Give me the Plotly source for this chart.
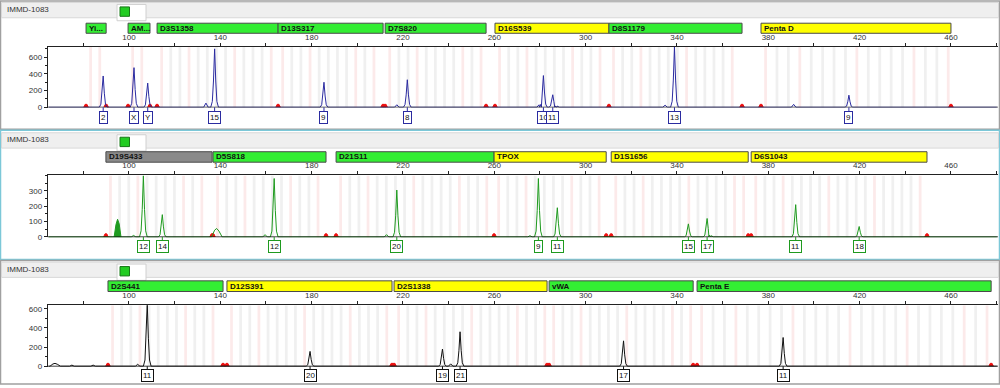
import plotly.graph_objects as go
import numpy as np

W, H = 1000, 388
X_RANGE = [64.4, 480.6]
X_DOMAIN = [0.0477, 0.998]

sample_name = "IMMD-1083"
size_ticks = list(range(80, 481, 20))
size_labels = [100, 140, 180, 220, 260, 300, 340, 380, 420, 460]

# ---------------- Panel 1 (blue dye) ----------------
loci1_names = ["Yi...", "AM...", "D3S1358", "D13S317", "D7S820", "D16S539", "D8S1179", "Penta D"]
loci1_start = [81.2, 99.6, 112.3, 165.3, 212.2, 260.3, 310.2, 376.8]
loci1_end = [90.0, 109.2, 165.3, 211.3, 256.4, 310.2, 368.5, 460.0]
loci1_color = ["green", "green", "green", "green", "green", "yellow", "green", "yellow"]
loci1_repeat = [4, 4, 4, 4, 4, 4, 4, 5]
peaks1_size = [88.7, 102.2, 108.2, 137.5, 185.4, 221.9, 281.5, 285.6, 338.9, 415.3]
peaks1_height = [375, 475, 290, 700, 300, 330, 380, 150, 725, 145]
peaks1_allele = ["2", "X", "Y", "15", "9", "8", "10", "11", "13", "9"]
minor1_size = [133.7, 217.3, 279.6, 287.5, 334.8, 391.1]
minor1_height = [50, 30, 30, 15, 25, 35]

# ---------------- Panel 2 (green dye) ----------------
loci2_names = ["D19S433", "D5S818", "D21S11", "TPOX", "D1S1656", "D6S1043"]
loci2_start = [89.9, 136.8, 190.7, 259.9, 311.2, 372.5]
loci2_end = [136.4, 186.3, 259.9, 309.0, 371.2, 449.5]
loci2_color = ["gray", "green", "green", "yellow", "yellow", "yellow"]
loci2_repeat = [4, 4, 4, 4, 4, 4]
peaks2_size = [106.3, 114.6, 163.6, 217.3, 279.3, 287.6, 345.0, 353.2, 392.0, 419.8]
peaks2_height = [398, 145, 380, 305, 380, 190, 85, 120, 210, 68]
peaks2_allele = ["12", "14", "12", "20", "9", "11", "15", "17", "11", "18"]
minor2_size = [102.0, 159.6, 212.8, 275.6, 355.0]
minor2_height = [10, 15, 15, 8, 8]
broad2_size = [138.4]
broad2_height = [55]
blob2_size = [95.0]
blob2_height = [115]

# ---------------- Panel 3 (black dye) ----------------
loci3_names = ["D2S441", "D12S391", "D2S1338", "vWA", "Penta E"]
loci3_start = [90.8, 142.9, 216.1, 284.0, 348.8]
loci3_end = [141.2, 215.2, 283.1, 347.1, 477.6]
loci3_color = ["green", "yellow", "yellow", "green", "green"]
loci3_repeat = [4, 4, 4, 4, 5]
peaks3_size = [108.0, 179.3, 237.3, 245.0, 316.6, 386.5]
peaks3_height = [650, 155, 180, 360, 265, 300]
peaks3_allele = ["11", "20", "19", "21", "17", "11"]
minor3_size = [103.8, 240.9, 75.0, 84.3]
minor3_height = [20, 25, 12, 12]
broad3_size = [67.6]
broad3_height = [30]

BAR_COLORS = {"green": "#33ee33", "yellow": "#ffff00", "gray": "#8a8a8a"}

panels = [
    dict(names=loci1_names, start=loci1_start, end=loci1_end, color=loci1_color, rep=loci1_repeat,
         ps=peaks1_size, ph=peaks1_height, pa=peaks1_allele, ms=minor1_size, mh=minor1_height,
         bs=[], bh=[], blob_s=[], blob_h=[],
         dye="#2b2ba0", yr=[-4, 726], ytv=[0, 200, 400, 600], ydt=100,
         top=46.3, bot=108.0, bar=(22.5, 32.7), head=1, red_h=35, lab_off=9.5),
    dict(names=loci2_names, start=loci2_start, end=loci2_end, color=loci2_color, rep=loci2_repeat,
         ps=peaks2_size, ph=peaks2_height, pa=peaks2_allele, ms=minor2_size, mh=minor2_height,
         bs=broad2_size, bh=broad2_height, blob_s=blob2_size, blob_h=blob2_height,
         dye="#1f9a1f", yr=[-3, 400], ytv=[0, 100, 200, 300], ydt=50,
         top=176.7, bot=239.5, bar=(152.7, 163.3), head=133, red_h=20, lab_off=8.7),
    dict(names=loci3_names, start=loci3_start, end=loci3_end, color=loci3_color, rep=loci3_repeat,
         ps=peaks3_size, ph=peaks3_height, pa=peaks3_allele, ms=minor3_size, mh=minor3_height,
         bs=broad3_size, bh=broad3_height, blob_s=[], blob_h=[],
         dye="#111111", yr=[-4, 636], ytv=[0, 200, 400, 600], ydt=100,
         top=308.3, bot=370.4, bar=(283.5, 294.3), head=264, red_h=30, lab_off=8.5),
]


def py(p):
    return 1 - p / H


def px(p):
    return p / W


fig = go.Figure()
shapes = []
annotations = []

frames = [(0, 130, "#a0a0a0"), (131, 262, "#7cc8d8"), (263, 388, "#a0a0a0")]
for (t, b, c) in frames:
    shapes.append(dict(type="rect", xref="paper", yref="paper", x0=px(0.5), x1=px(999.5),
                       y0=py(b), y1=py(t), line=dict(color=c, width=1.5), fillcolor="white", layer="below"))

for i, P in enumerate(panels):
    ax = "" if i == 0 else str(i + 1)
    xref, yref = "x" + ax, "y" + ax
    ht = P["head"]
    shapes.append(dict(type="rect", xref="paper", yref="paper", x0=px(1.5), x1=px(998.5),
                       y0=py(ht + 16), y1=py(ht + 0.5), fillcolor="#efefef",
                       line=dict(color="#d8d8d8", width=1), layer="below"))
    shapes.append(dict(type="rect", xref="paper", yref="paper", x0=px(117), x1=px(146),
                       y0=py(ht + 19), y1=py(ht + 2.5), fillcolor="white",
                       line=dict(color="#d0d0d0", width=1), layer="below"))
    shapes.append(dict(type="rect", xref="paper", yref="paper", x0=px(120), x1=px(129.5),
                       y0=py(ht + 14.5), y1=py(ht + 5), fillcolor="#22cc22",
                       line=dict(color="#187818", width=1)))
    annotations.append(dict(text=sample_name, xref="paper", yref="paper", x=px(5), y=py(ht + 7.5),
                            xanchor="left", yanchor="middle", showarrow=False,
                            font=dict(size=8, color="#333333", family="Liberation Sans")))

    gray_bins, pink_bins = [], []
    for s, e, r in zip(P["start"], P["end"], P["rep"]):
        pos = np.arange(s + 2, e - 1, r)
        n = len(pos)
        for k, b in enumerate(pos):
            if k == 0 or k == n - 1 or (k % 5 == 3):
                pink_bins.append(b)
            else:
                gray_bins.append(b)
    ytop = P["yr"][1]
    ybot = P["yr"][0]
    for bins, col in ((gray_bins, "rgba(200,200,200,0.28)"), (pink_bins, "rgba(240,160,160,0.22)")):
        fig.add_trace(go.Bar(x=bins, y=[ytop - ybot] * len(bins), base=[ybot] * len(bins), width=1.2,
                             marker=dict(color=col, line=dict(width=0)), xaxis=xref, yaxis=yref,
                             hoverinfo="skip", showlegend=False))

    for nm, s, e, c in zip(P["names"], P["start"], P["end"], P["color"]):
        shapes.append(dict(type="rect", xref=xref, yref="paper", x0=s, x1=e,
                           y0=py(P["bar"][1]), y1=py(P["bar"][0]), fillcolor=BAR_COLORS[c],
                           line=dict(color="#4a4a4a", width=1)))
        annotations.append(dict(text="<b>" + nm + "</b>", xref=xref, yref="paper", x=s, xshift=1,
                                y=py((P["bar"][0] + P["bar"][1]) / 2), xanchor="left", yanchor="middle",
                                showarrow=False, font=dict(size=8, color="#111111", family="Liberation Sans")))

    bounds = sorted(set(list(P["start"]) + list(P["end"])))
    for b in bounds:
        fig.add_trace(go.Scatter(x=[b - 1.0, b - 0.4, b + 0.4, b + 1.0], y=[0, P["red_h"], P["red_h"], 0],
                                 fill="toself", fillcolor="#ee1111", line=dict(color="#ee1111", width=1),
                                 mode="lines", xaxis=xref, yaxis=yref, hoverinfo="skip", showlegend=False))

    pts = []
    for s, h in zip(P["ps"], P["ph"]):
        pts += [(s - 1.7, 0), (s - 1.0, h * 0.1), (s - 0.5, h * 0.45), (s, h),
                (s + 0.5, h * 0.45), (s + 1.0, h * 0.1), (s + 1.7, 0)]
    for s, h in zip(P["ms"], P["mh"]):
        pts += [(s - 1.0, 0), (s, h), (s + 1.0, 0)]
    for s, h in zip(P["bs"], P["bh"]):
        pts += [(s - 2.2, 0), (s - 0.9, h * 0.8), (s, h), (s + 1.0, h * 0.7), (s + 2.4, 0)]
    pts.sort()
    xs = [X_RANGE[0] + 0.5] + [p[0] for p in pts] + [X_RANGE[1] - 0.5]
    ys = [0] + [p[1] for p in pts] + [0]
    fig.add_trace(go.Scatter(x=xs, y=ys, mode="lines", line=dict(color=P["dye"], width=1),
                             xaxis=xref, yaxis=yref, hoverinfo="skip", showlegend=False))
    for s, h in zip(P["blob_s"], P["blob_h"]):
        fig.add_trace(go.Scatter(x=[s - 1.5, s - 0.7, s, s + 0.7, s + 1.5], y=[0, h * 0.7, h, h * 0.75, 0],
                                 fill="toself", fillcolor=P["dye"], mode="lines",
                                 line=dict(color=P["dye"], width=1), xaxis=xref, yaxis=yref,
                                 hoverinfo="skip", showlegend=False))

    shapes.append(dict(type="line", xref=xref + " domain", yref=yref, x0=0, x1=1, y0=0, y1=0,
                       line=dict(color="#111111", width=1)))

    for s, a in zip(P["ps"], P["pa"]):
        annotations.append(dict(text=a, xref=xref, yref=yref, x=s, y=0, showarrow=True, arrowhead=0,
                                arrowwidth=1, arrowcolor=P["dye"], ax=0, ay=P["lab_off"] + 1,
                                bordercolor=P["dye"], borderwidth=1, borderpad=1, bgcolor="white",
                                font=dict(size=8, color="#111111", family="Liberation Sans")))

    xlab = [str(v) if v in size_labels else "" for v in size_ticks]
    fig.layout["xaxis" + ax] = dict(domain=X_DOMAIN, range=X_RANGE, anchor=yref, side="top",
                                    showline=True, linecolor="#222222", linewidth=1, ticks="outside",
                                    ticklen=3, tickcolor="#222222", tickvals=size_ticks, ticktext=xlab,
                                    tickfont=dict(size=8, color="#333333", family="Liberation Sans"),
                                    showgrid=False, zeroline=False, fixedrange=True)
    fig.layout["yaxis" + ax] = dict(domain=[py(P["bot"]), py(P["top"])], range=P["yr"], anchor=xref,
                                    showline=True, linecolor="#222222", linewidth=1, ticks="outside",
                                    ticklen=3, tickcolor="#222222", tickvals=P["ytv"],
                                    tickfont=dict(size=8, color="#333333", family="Liberation Sans"),
                                    minor=dict(dtick=P["ydt"], ticks="outside", ticklen=2, tickcolor="#222222"),
                                    showgrid=False, zeroline=False, fixedrange=True)

fig.update_layout(width=W, height=H, margin=dict(l=0, r=0, t=0, b=0), autosize=False,
                  plot_bgcolor="rgba(0,0,0,0)", paper_bgcolor="white", barmode="overlay",
                  shapes=shapes, annotations=annotations, showlegend=False)
fig.write_html("out.html", config={"displayModeBar": False},
               post_script="document.body.style.margin='0';document.body.style.overflow='hidden';")
